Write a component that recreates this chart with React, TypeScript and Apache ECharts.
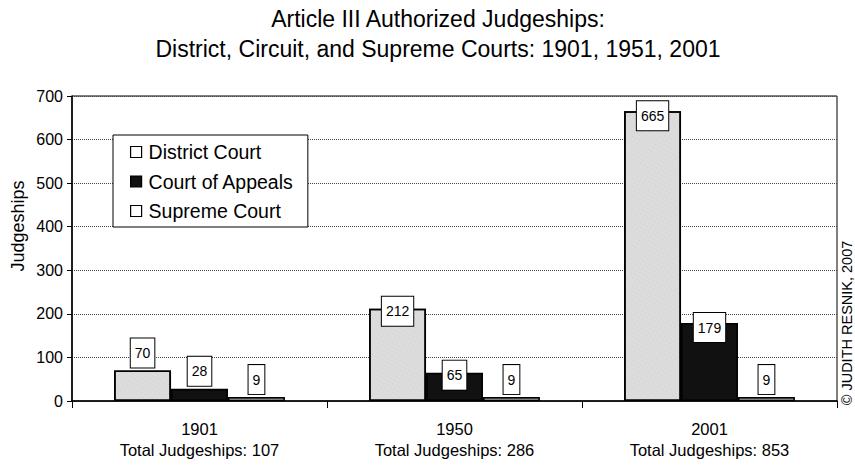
import React, { useEffect, useRef } from "react";
import * as echarts from "echarts";

const years = ["1901", "1950", "2001"];
const seriesNames = ["District Court", "Court of Appeals", "Supreme Court"];
const districtCourt = [70, 212, 665];
const courtOfAppeals = [28, 65, 179];
const supremeCourt = [9, 9, 9];
const yTicks = { min: 0, max: 700, interval: 100 };

const FONT = "'Liberation Sans', Arial, Helvetica, sans-serif";

export default function App() {
  const ref = useRef<HTMLDivElement>(null);

  useEffect(() => {
    if (!ref.current) return;
    const chart = echarts.init(ref.current, undefined, { renderer: "svg" });
    const values = [districtCourt, courtOfAppeals, supremeCourt];
    const totals = years.map((_, i) => values.reduce((s, arr) => s + arr[i], 0));
    // label vertical shifts (pixels) for labels that sit over the bar top
    const labelDrop = [
      [0, 20, 22],
      [0, 20, 22],
      [0, 0, 0],
    ];
    const fills = ["#dcdcdc", "#111111", "#ffffff"];

    const series = values.map((arr, si) => ({
      name: seriesNames[si],
      type: "bar",
      barGap: "0%",
      barCategoryGap: "33%",
      itemStyle: {
        color: fills[si],
        borderColor: "#000",
        borderWidth: 1.6,
        decal:
          si === 0
            ? {
                symbol: "rect",
                symbolSize: 0.5,
                color: "rgba(80,80,80,0.35)",
                dashArrayX: [1, 3],
                dashArrayY: [1, 3],
                rotation: 0.5,
              }
            : "none",
      },
      label: {
        show: true,
        position: "top",
        distance: 3,
        fontFamily: FONT,
        fontSize: 14,
        lineHeight: 15,
        color: "#000",
        backgroundColor: "#fff",
        borderColor: "#000",
        borderWidth: 1,
        padding: [7, 4, 7, 4],
      },
      data: arr.map((v, i) => ({
        value: v,
        label: { offset: [0, labelDrop[si][i]] },
      })),
    }));

    chart.setOption({
      animation: false,
      title: {
        text: "Article III Authorized Judgeships:\nDistrict, Circuit, and Supreme Courts: 1901, 1951, 2001",
        left: 438,
        top: 4,
        padding: 0,
        textAlign: "center",
        textStyle: {
          fontFamily: FONT,
          fontSize: 23,
          lineHeight: 30,
          fontWeight: "normal",
          color: "#000",
        },
      },
      legend: {
        orient: "vertical",
        left: 113,
        top: 135,
        padding: [7, 14, 6, 17],
        itemGap: 9.5,
        itemWidth: 11,
        itemHeight: 11,
        icon: "rect",
        backgroundColor: "#fff",
        borderColor: "#000",
        borderWidth: 1,
        textStyle: { fontFamily: FONT, fontSize: 19.5, color: "#000", padding: [0, 0, 0, 2] },
        data: [
          { name: seriesNames[0], itemStyle: { color: "#fff", borderColor: "#000", borderWidth: 1.2, decal: "none" } },
          { name: seriesNames[1], itemStyle: { color: "#111", borderColor: "#000", borderWidth: 1.2 } },
          { name: seriesNames[2], itemStyle: { color: "#fff", borderColor: "#000", borderWidth: 1.2 } },
        ],
      },
      grid: {
        left: 72,
        right: 18,
        top: 96,
        bottom: 68,
        show: true,
        borderColor: "#000",
        borderWidth: 1,
        backgroundColor: "transparent",
      },
      xAxis: {
        type: "category",
        data: years,
        axisLine: { lineStyle: { color: "#000", width: 1.5 } },
        axisTick: { show: true, length: 7, lineStyle: { color: "#000", width: 1 } },
        axisLabel: {
          margin: 17,
          fontFamily: FONT,
          fontSize: 16.5,
          lineHeight: 21,
          color: "#000",
          formatter: (val: string) => {
            const i = years.indexOf(val);
            return `${val}\nTotal Judgeships: ${totals[i]}`;
          },
        },
      },
      yAxis: {
        type: "value",
        min: yTicks.min,
        max: yTicks.max,
        interval: yTicks.interval,
        axisLine: { show: true, lineStyle: { color: "#000", width: 1.5 } },
        axisTick: { show: true, length: 5, lineStyle: { color: "#000" } },
        axisLabel: { margin: 9, fontFamily: FONT, fontSize: 16, color: "#000" },
        splitLine: { show: true, lineStyle: { color: "#444", type: "dotted", width: 1 } },
      },
      graphic: [
        {
          type: "text",
          x: 18,
          y: 226,
          rotation: Math.PI / 2,
          style: {
            text: "Judgeships",
            fontFamily: FONT,
            fontSize: 18,
            fill: "#000",
            textAlign: "center",
            textVerticalAlign: "middle",
          },
        },
        {
          type: "text",
          x: 847,
          y: 323,
          rotation: Math.PI / 2,
          style: {
            text: "© JUDITH RESNIK, 2007",
            fontFamily: FONT,
            fontSize: 14.5,
            fill: "#000",
            textAlign: "center",
            textVerticalAlign: "middle",
          },
        },
      ],
      series,
    });

    return () => chart.dispose();
  }, []);

  return (
    <div
      ref={ref}
      style={{ position: "fixed", left: 0, top: 0, width: 855, height: 469, background: "#fff" }}
    />
  );
}
